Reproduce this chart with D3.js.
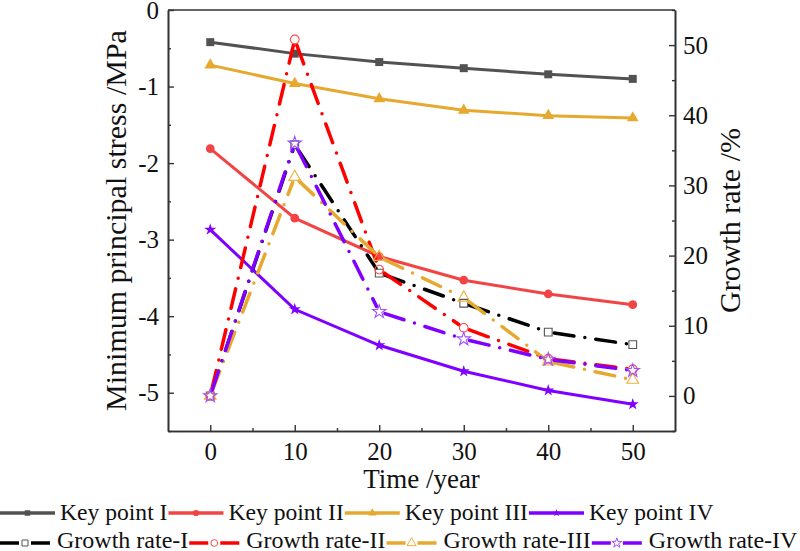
<!DOCTYPE html>
<html>
<head>
<meta charset="utf-8">
<script src="https://cdn.jsdelivr.net/npm/d3@7"></script>
<style>
  body { margin: 0; background: #fff; }
  svg text { font-family: "Liberation Serif", "Times New Roman", serif; fill: #111; }
</style>
</head>
<body>
<div id="chart"></div>
<script>
// data
const years = [0, 10, 20, 30, 40, 50];
const keyPointI = [-0.42, -0.57, -0.68, -0.76, -0.84, -0.90];
const keyPointII = [-1.81, -2.72, -3.22, -3.53, -3.71, -3.85];
const keyPointIII = [-0.72, -0.96, -1.16, -1.31, -1.38, -1.41];
const keyPointIV = [-2.87, -3.91, -4.38, -4.72, -4.97, -5.15];
const growthI = [0, 35.8, 17.5, 13.2, 9.1, 7.3];
const growthII = [0, 50.8, 18.0, 9.7, 5.3, 3.8];
const growthIII = [0, 31.2, 19.8, 14.0, 4.9, 2.3];
const growthIV = [0, 36.0, 12.0, 8.1, 5.2, 3.6];

const xTicks = [0, 10, 20, 30, 40, 50];
const yLeftTicks = [0, -1, -2, -3, -4, -5];
const yRightTicks = [0, 10, 20, 30, 40, 50];

const keySeries = [
  { name: "Key point I", values: keyPointI, color: "#525252", symbol: d3.symbolSquare, size: 64, legendSize: 30 },
  { name: "Key point II", values: keyPointII, color: "#f24444", symbol: d3.symbolCircle, size: 60, legendSize: 30 },
  { name: "Key point III", values: keyPointIII, color: "#e6a82e", symbol: d3.symbolTriangle, size: 60, legendSize: 30 },
  { name: "Key point IV", values: keyPointIV, color: "#7f00ff", symbol: d3.symbolStar, size: 45, legendSize: 18 }
];
const growthSeries = [
  { name: "Growth rate-I", values: growthI, color: "#000000", mark: "#555555", symbol: d3.symbolSquare, size: 60, legendSize: 36 },
  { name: "Growth rate-II", values: growthII, color: "#ff0000", mark: "#ff4d4d", symbol: d3.symbolCircle, size: 60, legendSize: 36 },
  { name: "Growth rate-III", values: growthIII, color: "#e6a82e", mark: "#eeb040", symbol: d3.symbolTriangle, size: 60, legendSize: 36 },
  { name: "Growth rate-IV", values: growthIV, color: "#7f00ff", mark: "#a050ff", symbol: d3.symbolStar, size: 55, legendSize: 30 }
];

const width = 800, height = 551;
const plot = { left: 168, right: 675, top: 10, bottom: 431 };
const serif = "'Liberation Serif', 'Times New Roman', serif";

const svg = d3.select("#chart").append("svg")
  .attr("width", width)
  .attr("height", height);

const x = d3.scaleLinear().domain([-5, 55]).range([plot.left, plot.right]);
const yL = d3.scaleLinear().domain([-5.5, 0]).range([plot.bottom, plot.top]);
const yR = d3.scaleLinear().domain([-5, 55]).range([plot.bottom, plot.top]);

const axisColor = "#333";

function styleAxis(g) {
  g.attr("font-family", serif);
  g.select(".domain").attr("stroke", axisColor).attr("stroke-width", 1.6);
  g.selectAll(".tick line").attr("stroke", axisColor).attr("stroke-width", 1.4);
  g.selectAll("text").attr("font-size", 25).attr("font-family", serif).attr("fill", "#111");
}

// minor ticks first
svg.append("g")
  .attr("transform", `translate(0,${plot.bottom})`)
  .call(d3.axisBottom(x).tickValues(d3.range(5, 55, 10)).tickSizeInner(-3).tickSizeOuter(0).tickFormat(""))
  .call(styleAxis);
svg.append("g")
  .attr("transform", `translate(${plot.left},0)`)
  .call(d3.axisLeft(yL).tickValues(d3.range(-5.5, 0, 1)).tickSizeInner(-3).tickSizeOuter(0).tickFormat(""))
  .call(styleAxis);
svg.append("g")
  .attr("transform", `translate(${plot.right},0)`)
  .call(d3.axisRight(yR).tickValues([-5, 5, 15, 25, 35, 45, 55]).tickSizeInner(-3).tickSizeOuter(0).tickFormat(""))
  .call(styleAxis);

// major axes
svg.append("g")
  .attr("transform", `translate(0,${plot.bottom})`)
  .call(d3.axisBottom(x).tickValues(xTicks).tickSizeInner(-6).tickSizeOuter(0).tickPadding(11))
  .call(styleAxis);
svg.append("g")
  .attr("transform", `translate(${plot.left},0)`)
  .call(d3.axisLeft(yL).tickValues(yLeftTicks).tickSizeInner(-6).tickSizeOuter(0).tickPadding(9)
    .tickFormat(d => d === 0 ? "0" : String(d).replace("−", "-")))
  .call(styleAxis);
svg.append("g")
  .attr("transform", `translate(${plot.right},0)`)
  .call(d3.axisRight(yR).tickValues(yRightTicks).tickSizeInner(-6).tickSizeOuter(0).tickPadding(8))
  .call(styleAxis);

// top frame line
svg.append("line")
  .attr("x1", plot.left).attr("x2", plot.right)
  .attr("y1", plot.top).attr("y2", plot.top)
  .attr("stroke", axisColor).attr("stroke-width", 1.6);

// axis titles
svg.append("text")
  .attr("transform", `translate(126,${(plot.top + plot.bottom) / 2}) rotate(-90)`)
  .attr("text-anchor", "middle")
  .attr("font-size", 30)
  .text("Minimum principal stress /MPa");

svg.append("text")
  .attr("transform", `translate(740,${(plot.top + plot.bottom) / 2}) rotate(-90)`)
  .attr("text-anchor", "middle")
  .attr("font-size", 30)
  .text("Growth rate /%");

svg.append("text")
  .attr("x", (plot.left + plot.right) / 2)
  .attr("y", 488)
  .attr("text-anchor", "middle")
  .attr("font-size", 27)
  .text("Time /year");

// key point lines
const keyLine = d3.line().x((d, i) => x(years[i])).y(d => yL(d));
keySeries.forEach(s => {
  svg.append("path")
    .datum(s.values)
    .attr("d", keyLine)
    .attr("fill", "none")
    .attr("stroke", s.color)
    .attr("stroke-width", 3);
  svg.selectAll(null)
    .data(s.values)
    .enter().append("path")
    .attr("transform", (d, i) => `translate(${x(years[i])},${yL(d)})`)
    .attr("d", d3.symbol().type(s.symbol).size(s.size))
    .attr("fill", s.color);
});

// growth rate lines: dash-dot, broken around the markers
const gap = 6;
growthSeries.forEach(s => {
  const pts = s.values.map((d, i) => [x(years[i]), yR(d)]);
  const segs = d3.pairs(pts).map(([a, b]) => {
    const dx = b[0] - a[0], dy = b[1] - a[1];
    const len = Math.hypot(dx, dy);
    const ux = dx / len, uy = dy / len;
    return [[a[0] + ux * gap, a[1] + uy * gap], [b[0] - ux * gap, b[1] - uy * gap]];
  });
  svg.selectAll(null)
    .data(segs)
    .enter().append("path")
    .attr("d", d => d3.line()(d))
    .attr("fill", "none")
    .attr("stroke", s.color)
    .attr("stroke-width", 3.5)
    .attr("stroke-linecap", "round")
    .attr("stroke-dasharray", "20,11,0,11");
  svg.selectAll(null)
    .data(pts)
    .enter().append("path")
    .attr("transform", d => `translate(${d[0]},${d[1]})`)
    .attr("d", d3.symbol().type(s.symbol).size(s.size))
    .attr("fill", "none")
    .attr("stroke", s.mark)
    .attr("stroke-width", 1.1);
});

// legend
function legendRow(items, y, lineLen, textGap, baseline, fontSize, open) {
  let cx = 0;
  items.forEach(s => {
    const g = svg.append("g");
    if (open) {
      g.append("line").attr("x1", cx).attr("x2", cx + lineLen / 2 - 6)
        .attr("y1", y).attr("y2", y).attr("stroke", s.color).attr("stroke-width", 3.5);
      g.append("line").attr("x1", cx + lineLen / 2 + 6).attr("x2", cx + lineLen)
        .attr("y1", y).attr("y2", y).attr("stroke", s.color).attr("stroke-width", 3.5);
      g.append("path")
        .attr("transform", `translate(${cx + lineLen / 2},${y})`)
        .attr("d", d3.symbol().type(s.symbol).size(s.legendSize))
        .attr("fill", "none").attr("stroke", s.mark).attr("stroke-width", 1);
    } else {
      g.append("line").attr("x1", cx).attr("x2", cx + lineLen)
        .attr("y1", y).attr("y2", y).attr("stroke", s.color).attr("stroke-width", 3.5);
      g.append("path")
        .attr("transform", `translate(${cx + lineLen / 2},${y})`)
        .attr("d", d3.symbol().type(s.symbol).size(s.legendSize))
        .attr("fill", s.color);
    }
    const t = g.append("text")
      .attr("x", cx + lineLen + textGap)
      .attr("y", baseline)
      .attr("font-size", fontSize)
      .text(s.name);
    cx = cx + lineLen + textGap + t.node().getComputedTextLength() + 1;
  });
}
legendRow(keySeries, 513, 55, 5, 520, 23.6, false);
legendRow(growthSeries, 543, 50, 7, 548, 24, true);
</script>
</body>
</html>
